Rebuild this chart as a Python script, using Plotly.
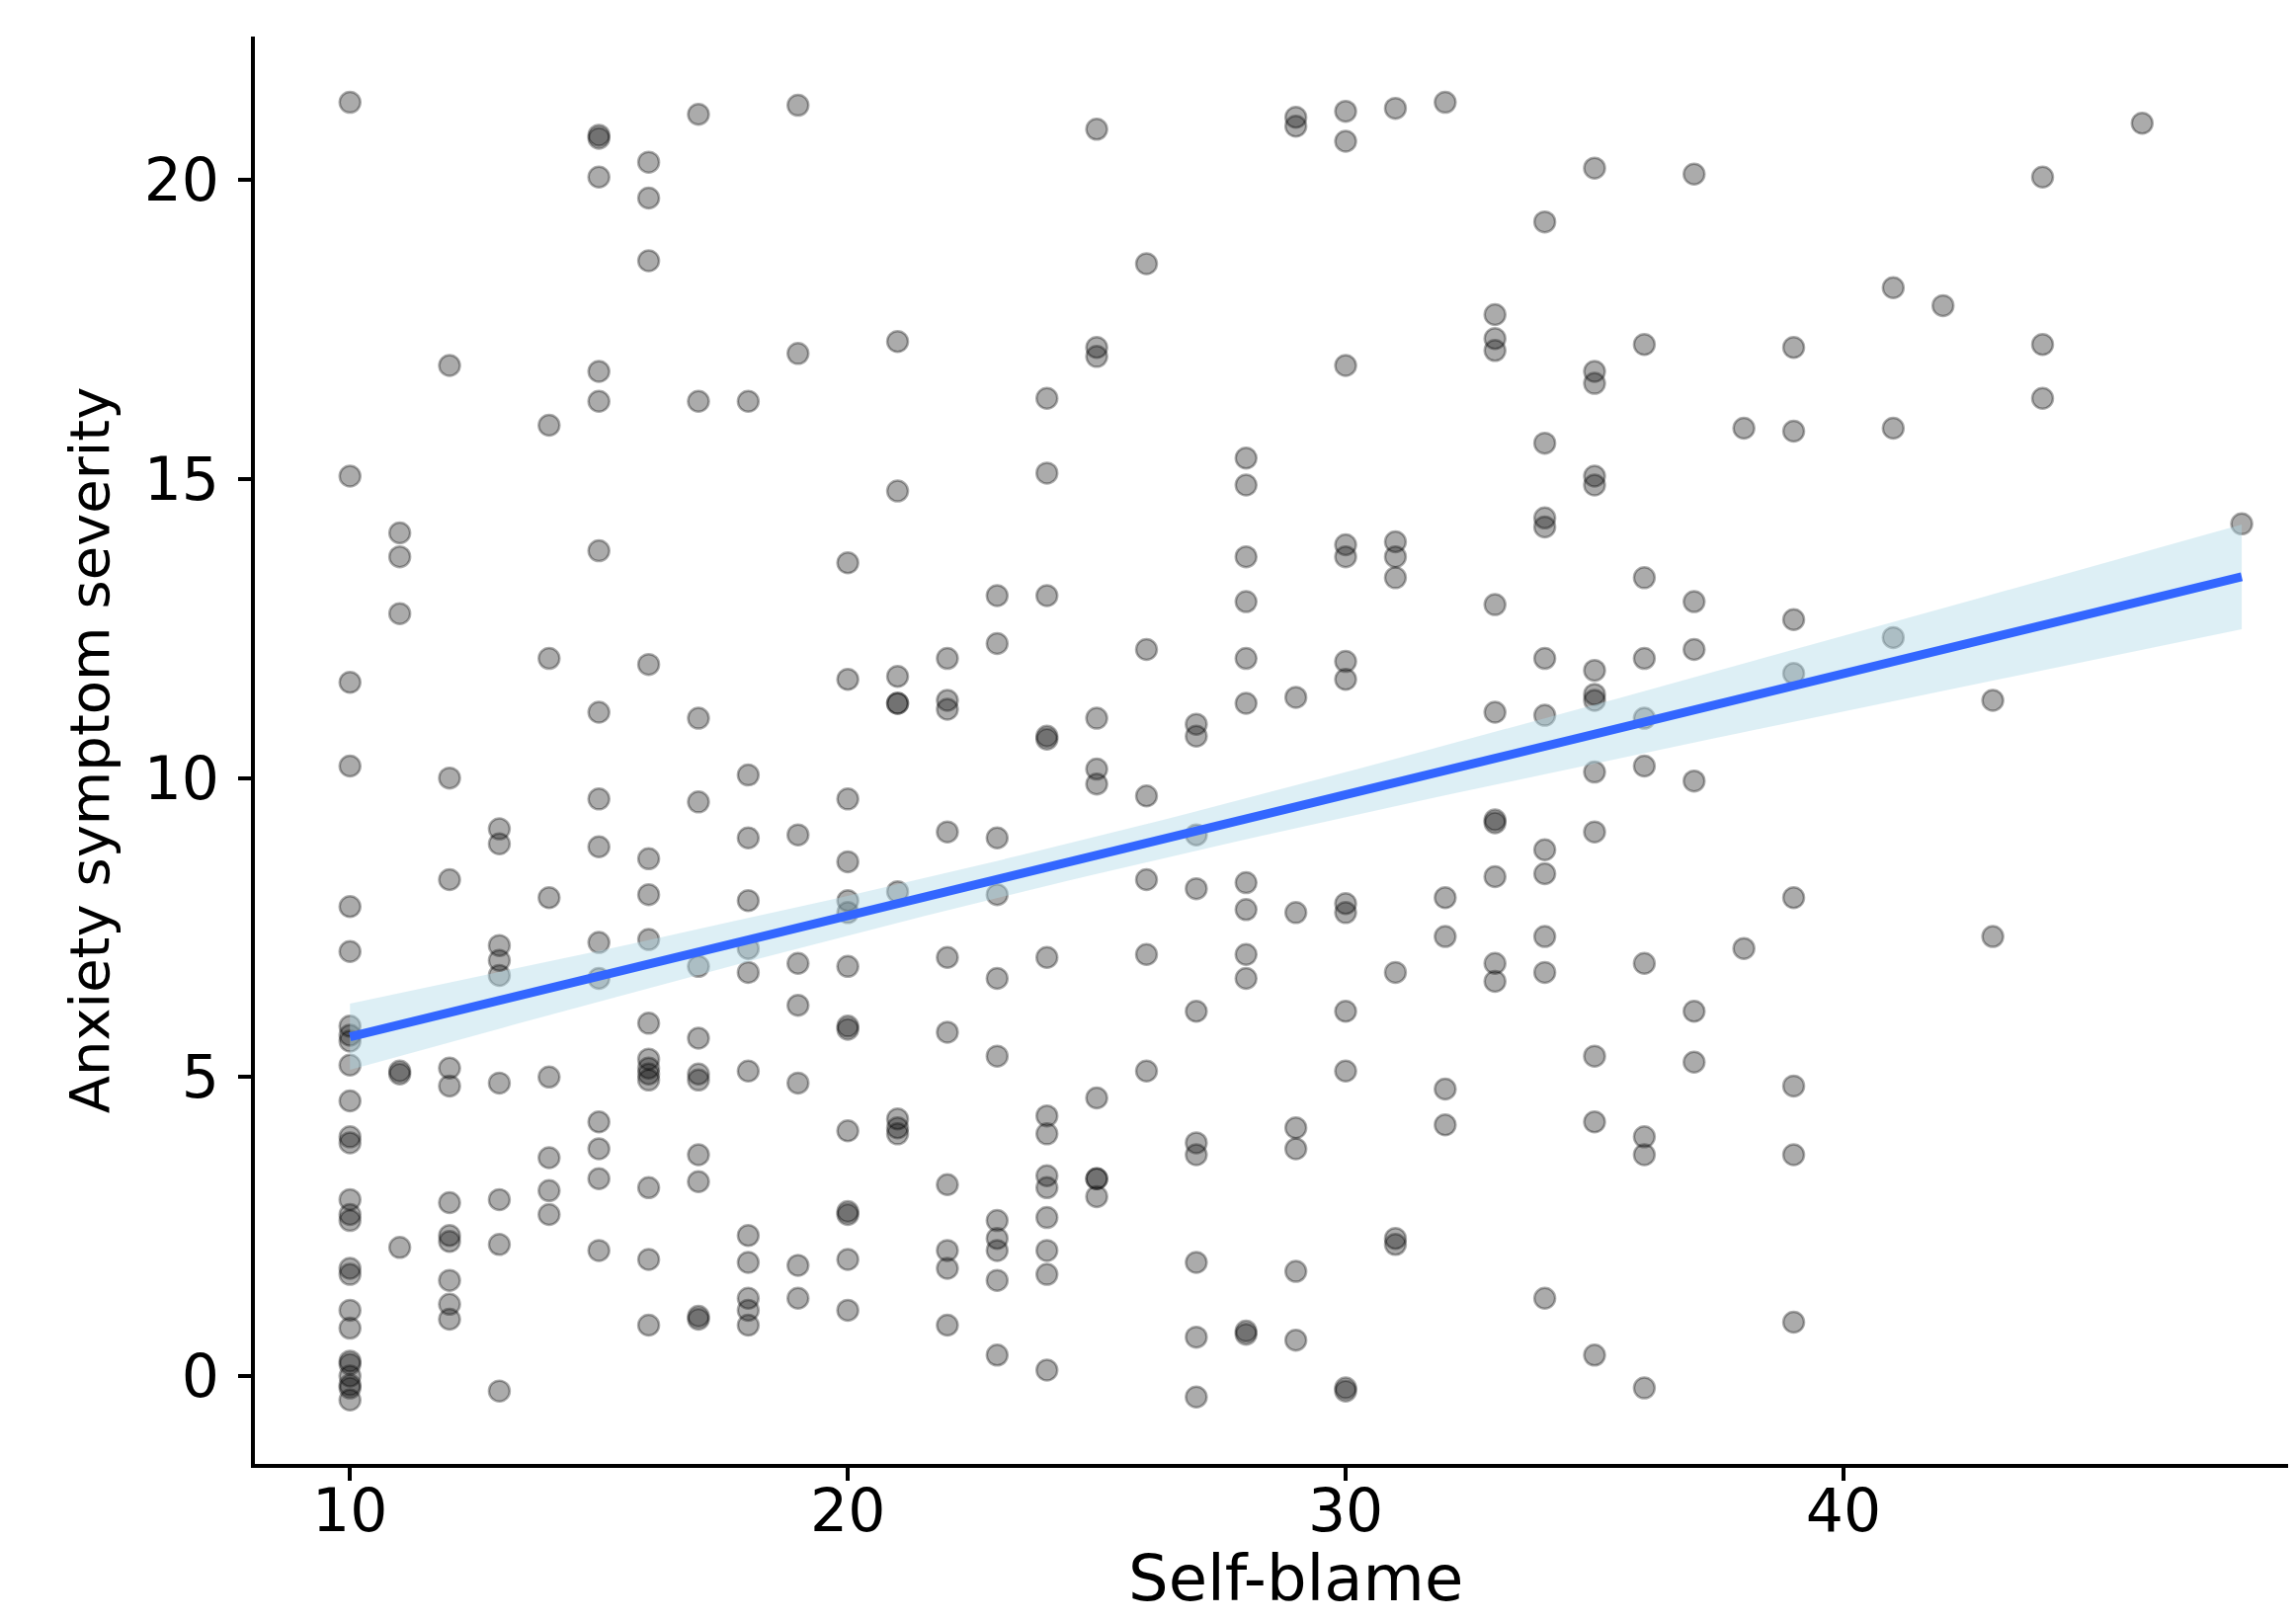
import numpy as np
import plotly.graph_objects as go

# Self-blame score -> anxiety symptom severity values read per column
self_blame_levels = [10, 11, 12, 13, 14, 15, 16, 17, 18, 19, 20, 21, 22, 23, 24, 25, 26, 27, 28, 29,
                     30, 31, 32, 33, 34, 35, 36, 37, 38, 39, 41, 42, 43, 44, 46, 48]

anx_10 = [21.3, 15.05, 11.6, 10.2, 7.85, 7.1, 5.85, 5.7, 5.6, 5.2, 4.6, 4.0, 3.9, 2.95, 2.7, 2.6,
          1.8, 1.7, 1.1, 0.8, 0.25, 0.2, 0.0, -0.15, -0.2, -0.4]
anx_11 = [14.1, 13.7, 12.75, 5.1, 5.05, 2.15]
anx_12 = [16.9, 10.0, 8.3, 5.15, 4.85, 2.9, 2.35, 2.25, 1.6, 1.2, 0.95]
anx_13 = [9.15, 8.9, 7.2, 6.95, 6.7, 4.9, 2.95, 2.2, -0.25]
anx_14 = [15.9, 12.0, 8.0, 5.0, 3.65, 3.1, 2.7]
anx_15 = [20.75, 20.7, 20.05, 16.8, 16.3, 13.8, 11.1, 9.65, 8.85, 7.25, 6.65, 4.25, 3.8, 3.3, 2.1]
anx_16 = [20.3, 19.7, 18.65, 11.9, 8.65, 8.05, 7.3, 5.9, 5.3, 5.15, 5.05, 4.95, 3.15, 1.95, 0.85]
anx_17 = [21.1, 16.3, 11.0, 9.6, 6.85, 5.65, 5.05, 4.95, 3.7, 3.25, 1.0, 0.95]
anx_18 = [16.3, 10.05, 9.0, 7.95, 7.15, 6.75, 5.1, 2.35, 1.9, 1.3, 1.1, 0.85]
anx_19 = [21.25, 17.1, 9.05, 6.9, 6.2, 4.9, 1.85, 1.3]
anx_20 = [13.6, 11.65, 9.65, 8.6, 7.95, 7.75, 6.85, 5.85, 5.8, 4.1, 2.75, 2.7, 1.95, 1.1]
anx_21 = [17.3, 14.8, 11.7, 11.25, 11.25, 8.1, 4.3, 4.15, 4.05]
anx_22 = [12.0, 11.3, 11.15, 9.1, 7.0, 5.75, 3.2, 2.1, 1.8, 0.85]
anx_23 = [13.05, 12.25, 9.0, 8.05, 6.65, 5.35, 2.6, 2.3, 2.1, 1.6, 0.35]
anx_24 = [16.35, 15.1, 13.05, 10.7, 10.65, 7.0, 4.35, 4.05, 3.35, 3.15, 2.65, 2.1, 1.7, 0.1]
anx_25 = [20.85, 17.2, 17.05, 11.0, 10.15, 9.9, 4.65, 3.3, 3.3, 3.0]
anx_26 = [18.6, 12.15, 9.7, 8.3, 7.05, 5.1]
anx_27 = [10.9, 10.7, 9.05, 8.15, 6.1, 3.9, 3.7, 1.9, 0.65, -0.35]
anx_28 = [15.35, 14.9, 13.7, 12.95, 12.0, 11.25, 8.25, 7.8, 7.05, 6.65, 0.75, 0.7]
anx_29 = [21.05, 20.9, 11.35, 7.75, 4.15, 3.8, 1.75, 0.6]
anx_30 = [21.15, 20.65, 16.9, 13.9, 13.7, 11.95, 11.65, 7.9, 7.75, 6.1, 5.1, -0.2, -0.25]
anx_31 = [21.2, 13.95, 13.7, 13.35, 6.75, 2.3, 2.2]
anx_32 = [21.3, 8.0, 7.35, 4.8, 4.2]
anx_33 = [17.75, 17.35, 17.15, 12.9, 11.1, 9.3, 9.25, 8.35, 6.9, 6.6]
anx_34 = [19.3, 15.6, 14.35, 14.2, 12.0, 11.05, 8.8, 8.4, 7.35, 6.75, 1.3]
anx_35 = [20.2, 16.8, 16.6, 15.05, 14.9, 11.8, 11.4, 11.3, 10.1, 9.1, 5.35, 4.25, 0.35]
anx_36 = [17.25, 13.35, 12.0, 11.0, 10.2, 6.9, 4.0, 3.7, -0.2]
anx_37 = [20.1, 12.95, 12.15, 9.95, 6.1, 5.25]
anx_38 = [15.85, 7.15]
anx_39 = [17.2, 15.8, 12.65, 11.75, 8.0, 4.85, 3.7, 0.9]
anx_41 = [18.2, 15.85, 12.35]
anx_42 = [17.9]
anx_43 = [11.3, 7.35]
anx_44 = [20.05, 17.25, 16.35]
anx_46 = [20.95]
anx_48 = [14.25]

columns = [anx_10, anx_11, anx_12, anx_13, anx_14, anx_15, anx_16, anx_17, anx_18, anx_19,
           anx_20, anx_21, anx_22, anx_23, anx_24, anx_25, anx_26, anx_27, anx_28, anx_29,
           anx_30, anx_31, anx_32, anx_33, anx_34, anx_35, anx_36, anx_37, anx_38, anx_39,
           anx_41, anx_42, anx_43, anx_44, anx_46, anx_48]

x_ticks = [10, 20, 30, 40]
y_ticks = [0, 5, 10, 15, 20]
x_title = "Self-blame"
y_title = "Anxiety symptom severity"

x_vals = []
y_vals = []
for lvl, col in zip(self_blame_levels, columns):
    x_vals.extend([lvl] * len(col))
    y_vals.extend(col)
x_arr = np.array(x_vals, dtype=float)
y_arr = np.array(y_vals, dtype=float)

# linear model fit with a standard-error band
n = len(x_arr)
slope, intercept = np.polyfit(x_arr, y_arr, 1)
resid = y_arr - (intercept + slope * x_arr)
s = np.sqrt(np.sum(resid ** 2) / (n - 2))
xm = x_arr.mean()
sxx = np.sum((x_arr - xm) ** 2)
xg = np.linspace(x_arr.min(), x_arr.max(), 80)
yg = intercept + slope * xg
se = s * np.sqrt(1.0 / n + (xg - xm) ** 2 / sxx)
band_mult = 1.0
upper = yg + band_mult * se
lower = yg - band_mult * se

# full panel extent (the panel continues past the right edge of the picture)
x_lo, x_hi_full, x_hi_visible = 8.09, 49.9, 49.09

FONT = "DejaVu Sans"

fig = go.Figure()
fig.add_trace(go.Scatter(
    x=x_arr, y=y_arr, mode="markers",
    marker=dict(size=21, color="rgba(0,0,0,0.33)",
                line=dict(color="rgba(0,0,0,0.32)", width=2.5)),
    hoverinfo="skip", showlegend=False))
fig.add_trace(go.Scatter(
    x=np.concatenate([xg, xg[::-1]]), y=np.concatenate([upper, lower[::-1]]),
    mode="lines", fill="toself", fillcolor="rgba(173,216,230,0.42)",
    line=dict(width=0), hoverinfo="skip", showlegend=False))
fig.add_trace(go.Scatter(
    x=xg, y=yg, mode="lines", line=dict(color="#3366FF", width=9),
    hoverinfo="skip", showlegend=False))

fig.update_layout(
    width=2316, height=1633,
    margin=dict(l=250, r=0, t=29, b=159),
    paper_bgcolor="white", plot_bgcolor="white",
    font=dict(family=FONT, size=60, color="black"),
    xaxis=dict(range=[x_lo, x_hi_visible], tickvals=x_ticks, ticktext=[str(v) for v in x_ticks],
               showgrid=False, zeroline=False, showline=True, linecolor="black", linewidth=4,
               ticks="outside", ticklen=13, tickwidth=4, tickcolor="black",
               tickfont=dict(family=FONT, size=60, color="black")),
    yaxis=dict(range=[-1.47, 22.4], tickvals=y_ticks, ticktext=[str(v) for v in y_ticks],
               showgrid=False, zeroline=False, showline=True, linecolor="black", linewidth=4,
               ticks="outside", ticklen=13, tickwidth=4, tickcolor="black",
               tickfont=dict(family=FONT, size=60, color="black"),
               title=dict(text=y_title, font=dict(family=FONT, size=56, color="black"), standoff=18)),
    annotations=[dict(text=x_title, xref="x", yref="paper", x=(x_lo + x_hi_full) / 2, y=0,
                      xanchor="center", yanchor="middle", yshift=-116, showarrow=False,
                      font=dict(family=FONT, size=64, color="black"))],
)

try:
    fig.update_xaxes(ticklabelstandoff=-21)
except Exception:
    pass
try:
    fig.update_yaxes(ticklabelstandoff=7)
except Exception:
    pass

fig.write_html("out.html")
